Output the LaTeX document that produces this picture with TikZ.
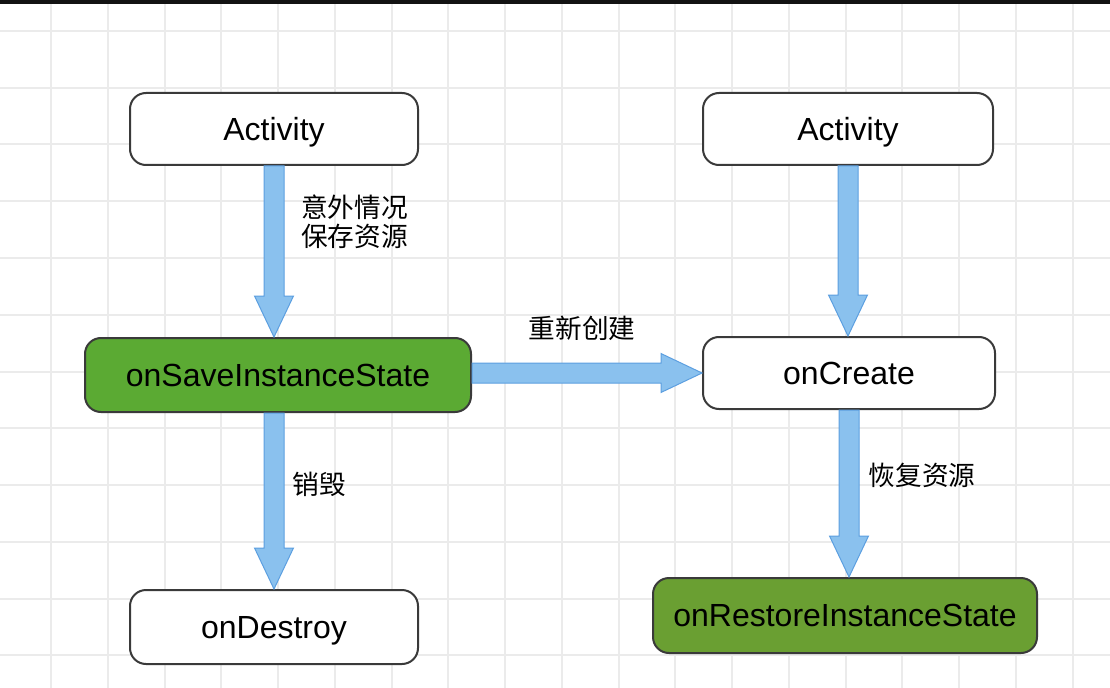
\documentclass[tikz,border=0pt]{standalone}
\usepackage{fontspec}
\setmainfont{Liberation Sans}
\newfontfamily\cjk{Noto Sans CJK SC}
\usetikzlibrary{calc}
\definecolor{gridc}{HTML}{EBEBEB}
\definecolor{boxline}{HTML}{3A3A3A}
\definecolor{greenA}{HTML}{5BAA33}
\definecolor{greenB}{HTML}{6A9F32}
\definecolor{arrowfill}{HTML}{8AC1EE}
\definecolor{arrowline}{HTML}{5C9FE0}
\tikzset{
  gridline/.style={draw=gridc, line width=1.5pt},
  box/.style={draw=boxline, line width=1.5pt, rounded corners=12pt, fill=white,
    inner sep=0pt, font=\fontsize{24pt}{28pt}\selectfont, text height=17.2pt, text depth=0pt},
  greenbox/.style={box, fill=#1},
  lbl/.style={font=\cjk\fontsize{20pt}{22pt}\selectfont, inner sep=0pt, align=left},
  fatarrow/.style={fill=arrowfill, draw=arrowline, line width=0.75pt, line join=miter,
    to path={
      ($(\tikztostart)!7.5pt!90:(\tikztotarget)$)
      -- ($($(\tikztotarget)!30.75pt!(\tikztostart)$)!7.5pt!-90:(\tikztostart)$)
      -- ($($(\tikztotarget)!30.75pt!(\tikztostart)$)!14.6pt!-90:(\tikztostart)$)
      -- (\tikztotarget)
      -- ($($(\tikztotarget)!30.75pt!(\tikztostart)$)!14.6pt!90:(\tikztostart)$)
      -- ($($(\tikztotarget)!30.75pt!(\tikztostart)$)!7.5pt!90:(\tikztostart)$)
      -- ($(\tikztostart)!7.5pt!-90:(\tikztotarget)$)
      -- cycle
    }}
}
\begin{document}
\begin{tikzpicture}[x=0.75pt,y=-0.75pt]
\useasboundingbox (0,0) rectangle (1110,688);
\fill[white] (0,0) rectangle (1110,688);
% grid
\foreach \i in {0,...,18} \draw[gridline] ({51+56.75*\i},0) -- ({51+56.75*\i},688);
\foreach \j in {0,...,11} \draw[gridline] (0,{31+56.75*\j}) -- (1110,{31+56.75*\j});
\fill[black!93] (0,0) rectangle (1110,4);
% nodes
\node[box, minimum width=216pt, minimum height=54pt] (a1) at (274,129) {Activity};
\node[box, minimum width=217.5pt, minimum height=54pt] (a2) at (848,129) {Activity};
\node[greenbox=greenA, minimum width=289.5pt, minimum height=55.5pt] (save) at (278,375) {onSaveInstanceState};
\node[box, minimum width=219pt, minimum height=54pt] (create) at (849,373) {onCreate};
\node[box, minimum width=216pt, minimum height=55.5pt] (destroy) at (274,627) {onDestroy};
\node[greenbox=greenB, minimum width=288pt, minimum height=56.25pt] (restore) at (845,615.5) {onRestoreInstanceState};
% arrows
\path[fatarrow] (a1.south) to (a1.south |- save.north);
\path[fatarrow] (destroy.north |- save.south) to (destroy.north);
\path[fatarrow] (create.west -| save.east) to (create.west);
\path[fatarrow] (a2.south) to (a2.south |- create.north);
\path[fatarrow] (create.south) to (create.south |- restore.north);
% labels
\node[lbl, anchor=west] (t1) at (301,222) {意外情况\\保存资源};
\node[lbl] (t2) at (582,328) {重新创建};
\node[lbl] (t3) at (319,484) {销毁};
\node[lbl] (t4) at (922,475) {恢复资源};
\end{tikzpicture}
\end{document}
